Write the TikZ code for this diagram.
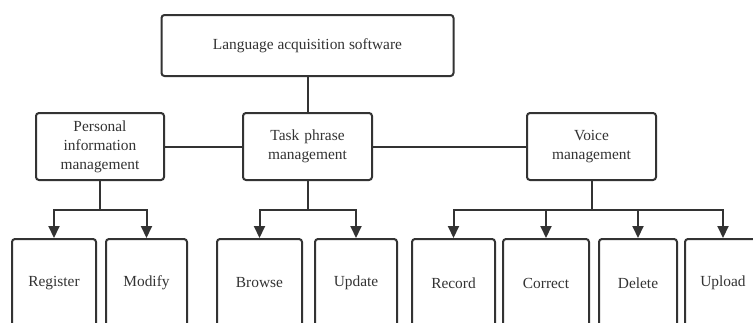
\documentclass[tikz,border=0pt]{standalone}
\usepackage{fontspec}
\setmainfont{Liberation Serif}
\usetikzlibrary{arrows.meta}
\definecolor{ink}{HTML}{333333}
\begin{document}
\begin{tikzpicture}[x=1pt,y=-1pt,
  box/.style={draw=ink, line width=2pt, rounded corners=3pt, fill=white,
    text=ink, align=center, inner sep=2pt,
    font=\fontsize{15.4}{19}\selectfont},
  mid/.style={box, minimum width=129pt, minimum height=67pt, text width=120pt},
  leaf/.style={box, minimum height=88pt},
  link/.style={draw=ink, line width=2pt},
  arr/.style={link, -{Triangle[length=12pt,width=11pt]}}]
\useasboundingbox (0,0) rectangle (753,322);
\clip (0,0) rectangle (753,322);

% root
\node[box, minimum width=292pt, minimum height=61pt] (root) at (307.5,45.5)
  {Language acquisition software};

% second level
\node[mid, minimum width=128pt] (pers) at (100,146.5)
  {Personal\\information\\management};
\node[mid] (task) at (307.5,146.5) {Task phrase\\management};
\node[mid] (voice) at (591.5,146.5) {Voice\\management};

% leaves
\node[leaf, minimum width=84pt] (reg)  at (54,283)    {Register};
\node[leaf, minimum width=81pt] (mod)  at (146.5,283) {Modify};
\node[leaf, minimum width=85pt] (brw)  at (259.5,283) {Browse};
\node[leaf, minimum width=82pt] (upd)  at (356,283)   {Update};
\node[leaf, minimum width=83pt] (rec)  at (453.5,283) {Record};
\node[leaf, minimum width=86pt] (cor)  at (546,283)   {Correct};
\node[leaf, minimum width=78pt] (del)  at (638,283)   {Delete};
\node[leaf, minimum width=76pt] (upl)  at (723,283)   {Upload};

% upper links
\draw[link] (root.south) -- (task.north);
\draw[link] (pers.east) -- (task.west);
\draw[link] (task.east) -- (voice.west);

% branch points
\coordinate (pb) at (100,210);
\coordinate (tb) at (307.5,210);
\coordinate (vb) at (591.5,210);

\draw[link] (pers.south) -- (pb);
\draw[link] (task.south) -- (tb);
\draw[link] (voice.south) -- (vb);

\draw[arr] (pb) -| (reg.north);
\draw[arr] (pb) -| (mod.north);
\draw[arr] (tb) -| (brw.north);
\draw[arr] (tb) -| (upd.north);
\draw[arr] (vb) -| (rec.north);
\draw[arr] (vb) -| (cor.north);
\draw[arr] (vb) -| (del.north);
\draw[arr] (vb) -| (upl.north);
\end{tikzpicture}
\end{document}
